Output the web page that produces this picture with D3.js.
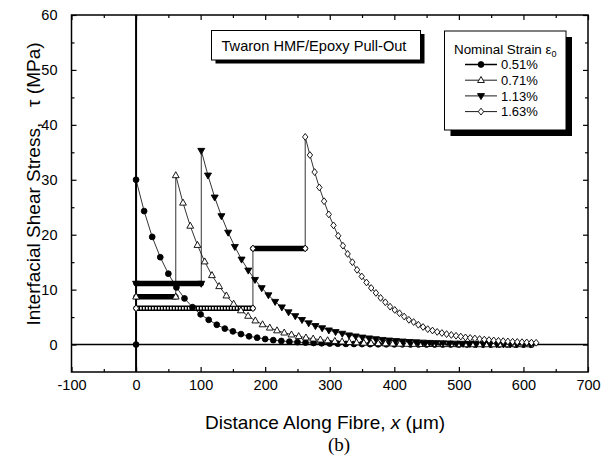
<!DOCTYPE html>
<html>
<head>
<meta charset="utf-8">
<script src="https://cdn.jsdelivr.net/npm/d3@7"></script>
<style>
  body { margin: 0; background: #fff; }
</style>
</head>
<body>
<div id="chart"></div>
<script>
// axis ticks
const xTicks = [-100, 0, 100, 200, 300, 400, 500, 600, 700];
const xMinor = [-50, 50, 150, 250, 350, 450, 550, 650];
const yTicks = [0, 10, 20, 30, 40, 50, 60];
const yMinor = [5, 15, 25, 35, 45, 55];

const seriesNames = ['0.51%', '0.71%', '1.13%', '1.63%'];

// 0.51% - filled circles
const x051 = [0, 0, 12.5, 25, 37.5, 50, 62.5, 75, 87.5, 100, 112.5, 125, 137.5, 150, 162.5, 175, 187.5,
  200, 212.5, 225, 237.5, 250, 262.5, 275, 287.5, 300, 312.5, 325, 337.5, 350, 362.5, 375, 387.5, 400,
  412.5, 425, 437.5, 450, 462.5, 475, 487.5, 500, 512.5, 525, 537.5, 550, 562.5, 575, 587.5, 600, 612.5];
const y051 = [0, 30, 24.3, 19.6, 15.9, 12.9, 10.4, 8.4, 6.8, 5.5, 4.5, 3.6, 2.9, 2.4, 1.9, 1.5, 1.25,
  1.0, 0.8, 0.65, 0.53, 0.43, 0.35, 0.28, 0.23, 0.18, 0.15, 0.12, 0.1, 0.08, 0.06, 0.05, 0.04, 0.03,
  0.03, 0.02, 0.02, 0.01, 0.01, 0.01, 0.01, 0, 0, 0, 0, 0, 0, 0, 0, 0, 0];

// 0.71% - open triangles
const x071 = [0, 61.5, 61.5, 72.7, 83.9, 95.1, 106.3, 117.5, 128.7, 139.9, 151.1, 162.3, 173.5, 184.7,
  195.9, 207.1, 218.3, 229.5, 240.7, 251.9, 263.1, 274.3, 285.5, 296.7, 307.9, 319.1, 330.3, 341.5,
  352.7, 363.9, 375.1, 386.3, 397.5, 408.7, 419.9, 431.1, 442.3, 453.5, 464.7, 475.9, 487.1, 498.3,
  509.5, 520.7, 531.9, 543.1, 554.3, 565.5, 576.7, 587.9, 599.1, 610.3];
const y071 = [8.7, 8.7, 30.8, 25.8, 21.6, 18.1, 15.1, 12.6, 10.6, 8.9, 7.4, 6.2, 5.2, 4.35,
  3.65, 3.05, 2.55, 2.15, 1.8, 1.5, 1.25, 1.05, 0.88, 0.74, 0.62, 0.52, 0.43, 0.36,
  0.3, 0.25, 0.21, 0.18, 0.15, 0.12, 0.1, 0.09, 0.07, 0.06, 0.05, 0.04, 0.04, 0.03,
  0.03, 0.02, 0.02, 0.02, 0.01, 0.01, 0.01, 0.01, 0.01, 0];

// 1.13% - filled down triangles
const x113 = [0, 101, 101, 111.4, 121.8, 132.2, 142.6, 153, 163.4, 173.8, 184.2, 194.6, 205, 215.4,
  225.8, 236.2, 246.6, 257, 267.4, 277.8, 288.2, 298.6, 309, 319.4, 329.8, 340.2, 350.6, 361, 371.4,
  381.8, 392.2, 402.6, 413, 423.4, 433.8, 444.2, 454.6, 465, 475.4, 485.8, 496.2, 506.6, 517, 527.4,
  537.8, 548.2, 558.6, 569, 579.4, 589.8, 600.2, 610.6];
const y113 = [11.1, 11.1, 35.3, 30.8, 26.8, 23.4, 20.4, 17.8, 15.5, 13.5, 11.8, 10.3, 9.0, 7.8,
  6.8, 5.9, 5.2, 4.5, 3.9, 3.4, 3.0, 2.6, 2.3, 2.0, 1.7, 1.5, 1.3, 1.15, 1.0,
  0.87, 0.76, 0.66, 0.58, 0.5, 0.44, 0.38, 0.33, 0.29, 0.25, 0.22, 0.19, 0.17, 0.15, 0.13,
  0.11, 0.1, 0.08, 0.07, 0.06, 0.05, 0.05, 0.04];

// 1.63% - open diamonds
const x163 = [0, 181, 181, 262, 262, 269.3, 276.6, 283.9, 291.2, 298.5, 305.8, 313.1, 320.4, 327.7,
  335, 342.3, 349.6, 356.9, 364.2, 371.5, 378.8, 386.1, 393.4, 400.7, 408, 415.3, 422.6, 429.9,
  437.2, 444.5, 451.8, 459.1, 466.4, 473.7, 481, 488.3, 495.6, 502.9, 510.2, 517.5, 524.8, 532.1,
  539.4, 546.7, 554, 561.3, 568.6, 575.9, 583.2, 590.5, 597.8, 605.1, 612.4, 619.7];
const y163 = [6.6, 6.6, 17.5, 17.5, 37.8, 34.5, 31.4, 28.6, 26.1, 23.7, 21.7, 19.8, 18.0, 16.5,
  15.0, 13.6, 12.4, 11.3, 10.3, 9.4, 8.5, 7.7, 6.9, 6.3, 5.7, 5.1, 4.5, 4.1,
  3.6, 3.2, 2.8, 2.55, 2.3, 2.1, 1.9, 1.75, 1.6, 1.45, 1.3, 1.2, 1.1, 1.0,
  0.9, 0.82, 0.75, 0.68, 0.62, 0.56, 0.51, 0.47, 0.43, 0.39, 0.35, 0.32];

// plateaus (dense markers in the original) : [x start, x end, stress]
const plat071 = [[0, 61.5, 8.7]];
const plat113 = [[0, 101, 11.1]];
const plat163 = [[0, 181, 6.6], [181, 262, 17.5]];

const font = 'Liberation Sans, Arial, Helvetica, sans-serif';

// setup margin
const margin = {top: 15, right: 26, bottom: 88, left: 71.5};
const W = 614 - margin.left - margin.right;
const H = 460 - margin.top - margin.bottom;

const x = d3.scaleLinear().domain([-100, 700]).range([0, W]);
const y = d3.scaleLinear().domain([-5, 60]).range([H, 0]);

const svg = d3.select('#chart').append('svg')
  .attr('width', 614)
  .attr('height', 460);

const g = svg.append('g')
  .attr('transform', `translate(${margin.left},${margin.top})`);

function styleAxis(sel) {
  sel.select('.domain').remove();
  sel.selectAll('line').attr('stroke', '#000').attr('stroke-width', 1.2);
  sel.selectAll('text')
    .attr('font-family', font)
    .attr('font-size', 14.5)
    .attr('fill', '#000');
}
const blank = () => '';

// bottom / top
g.append('g').attr('transform', `translate(0,${H})`)
  .call(d3.axisBottom(x).tickValues(xTicks).tickSize(-5).tickPadding(8).tickFormat(d => String(d)))
  .call(styleAxis);
g.append('g').attr('transform', `translate(0,${H})`)
  .call(d3.axisBottom(x).tickValues(xMinor).tickSize(-3).tickFormat(blank))
  .call(styleAxis);
g.append('g')
  .call(d3.axisTop(x).tickValues(xTicks).tickSize(-5).tickFormat(blank))
  .call(styleAxis);
g.append('g')
  .call(d3.axisTop(x).tickValues(xMinor).tickSize(-3).tickFormat(blank))
  .call(styleAxis);

// left / right
g.append('g')
  .call(d3.axisLeft(y).tickValues(yTicks).tickSize(-5).tickPadding(14).tickFormat(d => String(d)))
  .call(styleAxis);
g.append('g')
  .call(d3.axisLeft(y).tickValues(yMinor).tickSize(-3).tickFormat(blank))
  .call(styleAxis);
g.append('g').attr('transform', `translate(${W},0)`)
  .call(d3.axisRight(y).tickValues(yTicks).tickSize(-5).tickFormat(blank))
  .call(styleAxis);
g.append('g').attr('transform', `translate(${W},0)`)
  .call(d3.axisRight(y).tickValues(yMinor).tickSize(-3).tickFormat(blank))
  .call(styleAxis);

// frame
g.append('rect')
  .attr('x', 0).attr('y', 0).attr('width', W).attr('height', H)
  .attr('fill', 'none').attr('stroke', '#000').attr('stroke-width', 1.5);

// zero lines
g.append('line')
  .attr('x1', 0).attr('x2', W).attr('y1', y(0)).attr('y2', y(0))
  .attr('stroke', '#000').attr('stroke-width', 1.5);
g.append('line')
  .attr('x1', x(0)).attr('x2', x(0)).attr('y1', 0).attr('y2', H)
  .attr('stroke', '#000').attr('stroke-width', 2);

// marker shapes
const shapes = {
  '0.51%': {path: 'M0,-2.9A2.9,2.9 0 1,1 0,2.9A2.9,2.9 0 1,1 0,-2.9Z', fill: '#000'},
  '0.71%': {path: 'M0,-3.7L3.4,2.3L-3.4,2.3Z', fill: '#fff'},
  '1.13%': {path: 'M0,3.7L3.5,-2.3L-3.5,-2.3Z', fill: '#000'},
  '1.63%': {path: 'M0,-3.4L2.7,0L0,3.4L-2.7,0Z', fill: '#fff'}
};

const zip = (xs, ys) => xs.map((v, i) => [v, ys[i]]);
const series = [
  {name: '0.51%', pts: zip(x051, y051), plat: []},
  {name: '0.71%', pts: zip(x071, y071), plat: plat071},
  {name: '1.13%', pts: zip(x113, y113), plat: plat113},
  {name: '1.63%', pts: zip(x163, y163), plat: plat163}
];

const line = d3.line().x(d => x(d[0])).y(d => y(d[1]));

// connecting lines
g.append('g').selectAll('path')
  .data(series)
  .join('path')
    .attr('d', d => line(d.pts))
    .attr('fill', 'none')
    .attr('stroke', '#000')
    .attr('stroke-width', 0.8);

// plateaus drawn as thick bars of packed markers
series.forEach(s => {
  s.plat.forEach((p, i) => {
    g.append('line')
      .attr('x1', x(p[0])).attr('x2', x(p[1]))
      .attr('y1', y(p[2])).attr('y2', y(p[2]))
      .attr('stroke', '#000').attr('stroke-width', 5.5)
      .attr('stroke-linecap', 'round');
    if (s.name === '1.63%' && i === 0) {
      g.append('line')
        .attr('x1', x(p[0]) + 1).attr('x2', x(p[1]) - 1)
        .attr('y1', y(p[2])).attr('y2', y(p[2]))
        .attr('stroke', '#fff').attr('stroke-width', 2.6)
        .attr('stroke-dasharray', '1.6,1.4');
    }
  });
});

// markers
series.forEach(s => {
  g.append('g').selectAll('path')
    .data(s.pts)
    .join('path')
      .attr('transform', d => `translate(${x(d[0])},${y(d[1])})`)
      .attr('d', shapes[s.name].path)
      .attr('fill', shapes[s.name].fill)
      .attr('stroke', '#000')
      .attr('stroke-width', 0.9);
});

// title box
svg.append('rect')
  .attr('x', 215.5).attr('y', 34).attr('width', 209).attr('height', 29.5)
  .attr('fill', '#000');
svg.append('rect')
  .attr('x', 211.5).attr('y', 30.5).attr('width', 209).attr('height', 29.5)
  .attr('fill', '#fff').attr('stroke', '#000').attr('stroke-width', 1);
svg.append('text')
  .attr('x', 221.5).attr('y', 50.5)
  .attr('font-family', font).attr('font-size', 14.6)
  .text('Twaron HMF/Epoxy Pull-Out');

// legend
svg.append('rect')
  .attr('x', 450.5).attr('y', 37).attr('width', 121.5).attr('height', 99)
  .attr('fill', '#000');
svg.append('rect')
  .attr('x', 444.5).attr('y', 31).attr('width', 121.5).attr('height', 99)
  .attr('fill', '#fff').attr('stroke', '#000').attr('stroke-width', 1);
const lt = svg.append('text')
  .attr('x', 454).attr('y', 53.5)
  .attr('font-family', font).attr('font-size', 13.4);
lt.append('tspan').text('Nominal Strain ε');
lt.append('tspan').attr('font-size', 9).attr('dy', 3).text('0');

const rows = [64.5, 80.2, 95.9, 111.6];
seriesNames.forEach((name, i) => {
  const ry = rows[i];
  svg.append('line')
    .attr('x1', 465).attr('x2', 497).attr('y1', ry).attr('y2', ry)
    .attr('stroke', '#000').attr('stroke-width', i === 0 ? 1.5 : 0.9);
  svg.append('path')
    .attr('transform', `translate(481,${ry})`)
    .attr('d', shapes[name].path)
    .attr('fill', shapes[name].fill)
    .attr('stroke', '#000').attr('stroke-width', 0.9);
  svg.append('text')
    .attr('x', 501).attr('y', ry + 4.7)
    .attr('font-family', font).attr('font-size', 13)
    .text(name);
});

// axis labels
svg.append('text')
  .attr('transform', 'translate(40,184) rotate(-90)')
  .attr('text-anchor', 'middle')
  .attr('font-family', font).attr('font-size', 19)
  .text('Interfacial Shear Stress,\u00a0\u00a0 τ (MPa)');

const xl = svg.append('text')
  .attr('x', 325).attr('y', 429)
  .attr('text-anchor', 'middle')
  .attr('font-family', font).attr('font-size', 19);
xl.append('tspan').text('Distance Along Fibre, ');
xl.append('tspan').attr('font-style', 'italic').text('x');
xl.append('tspan').text(' (μm)');

svg.append('text')
  .attr('x', 339).attr('y', 451)
  .attr('text-anchor', 'middle')
  .attr('font-family', 'Liberation Serif, Times New Roman, serif').attr('font-size', 19)
  .text('(b)');
</script>
</body>
</html>
